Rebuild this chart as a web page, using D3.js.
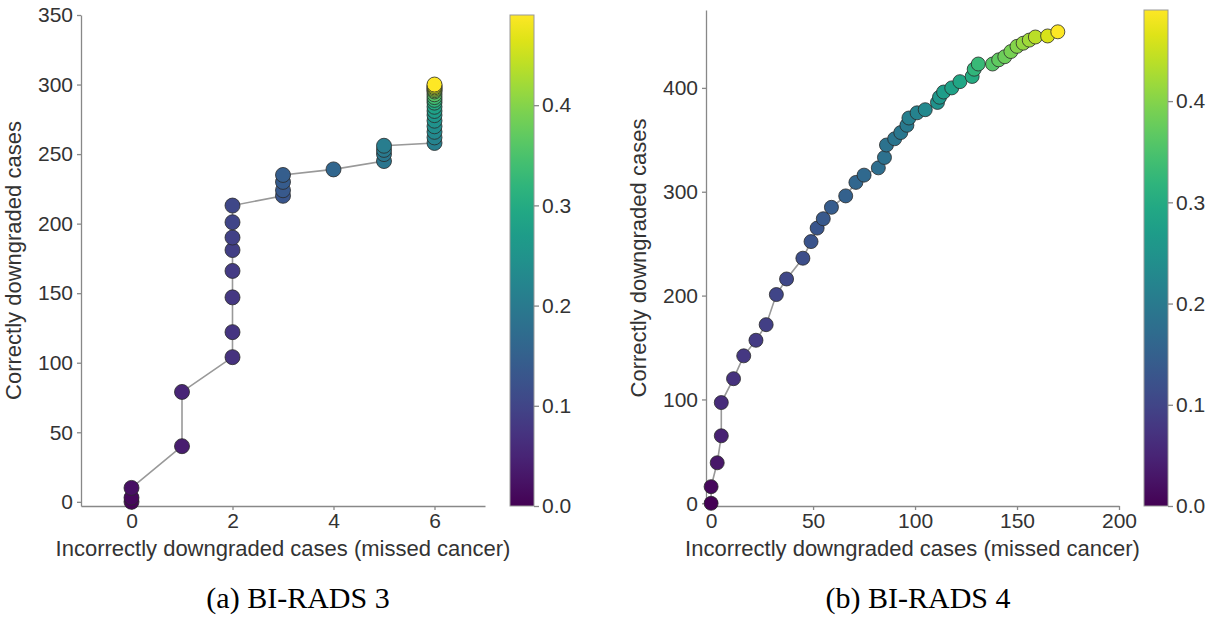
<!DOCTYPE html>
<html>
  <head>
    <title>Downgrade scatter</title>
    <meta charset="utf-8" />
    <script src="https://cdnjs.cloudflare.com/ajax/libs/d3/7.8.5/d3.min.js"></script>
    <style>
      body { margin: 0; background: #fff; }
      .axis text { font-family: "Liberation Sans", Arial, sans-serif; font-size: 21px; fill: #333; }
      .axis line, .axis path { stroke: #888; stroke-width: 1.3; }
      .title { font-family: "Liberation Sans", Arial, sans-serif; font-size: 22px; fill: #333; }
      .caption { font-family: "Liberation Serif", "Times New Roman", serif; font-size: 30px; fill: #000; }
    </style>
  </head>
  <body>
    <svg width="1216" height="626"></svg>
  </body>

  <script>
    // (a) BI-RADS 3
    let missed3 = [0, 0, 0, 1, 1, 2, 2, 2, 2, 2, 2, 2, 2, 3, 3, 3, 3, 4, 5, 5, 5, 5,
      6, 6, 6, 6, 6, 6, 6, 6, 6, 6, 6, 6, 6, 6, 6, 6, 6, 6];
    let correct3 = [0, 3, 10, 40, 79, 104, 122, 147, 166, 181, 190, 201, 213, 220, 224, 230, 235, 239, 245, 250, 253, 256,
      258, 262, 266, 270, 274, 278, 281, 284, 287, 289, 291, 293, 295, 296, 297, 298, 299, 300];
    let thresh3 = [0.005, 0.01, 0.02, 0.04, 0.05, 0.07, 0.075, 0.08, 0.085, 0.09, 0.095, 0.1, 0.105, 0.13, 0.135, 0.14, 0.145, 0.16, 0.19, 0.195, 0.2, 0.205,
      0.21, 0.22, 0.23, 0.24, 0.25, 0.26, 0.27, 0.28, 0.3, 0.32, 0.34, 0.36, 0.38, 0.4, 0.42, 0.44, 0.46, 0.49];

    // (b) BI-RADS 4
    let missed4 = [0, 0, 3, 5, 5, 11, 16, 22, 27, 32, 37, 45, 49, 52, 55, 59, 66, 71, 75, 82, 85, 86, 90, 93, 96, 97,
      101, 105, 111, 112, 114, 118, 122, 128, 129, 131, 138, 141, 144, 147, 150, 153, 156, 159, 165, 170];
    let correct4 = [0, 16, 39, 65, 97, 120, 142, 157, 172, 201, 216, 236, 252, 265, 274, 285, 296, 309, 316, 323, 333, 345, 351, 357, 364, 371,
      376, 379, 386, 391, 396, 400, 406, 411, 418, 423, 423, 427, 430, 435, 440, 443, 446, 449, 450, 454];
    let thresh4 = [0, 0.01, 0.03, 0.045, 0.06, 0.07, 0.08, 0.085, 0.09, 0.1, 0.105, 0.115, 0.125, 0.13, 0.135, 0.14, 0.15, 0.16, 0.165, 0.175, 0.18, 0.185, 0.19, 0.195, 0.2, 0.21,
      0.22, 0.23, 0.25, 0.26, 0.27, 0.28, 0.29, 0.3, 0.32, 0.33, 0.36, 0.37, 0.38, 0.39, 0.4, 0.41, 0.42, 0.44, 0.46, 0.49];

    let yTicks3 = [0, 50, 100, 150, 200, 250, 300, 350];
    let xTicks3 = [0, 2, 4, 6];
    let yTicks4 = [0, 100, 200, 300, 400];
    let xTicks4 = [0, 50, 100, 150, 200];
    let cbTicks = [0, 0.1, 0.2, 0.3, 0.4];
    let cbMax = 0.49;
    let xTitle = "Incorrectly downgraded cases (missed cancer)";
    let yTitle = "Correctly downgraded cases";

    let svg = d3.select("svg");
    let color = d3.scaleSequential(d3.interpolateViridis).domain([0, cbMax]);

    // one linear gradient shared by both colour bars
    let grad = svg.append("defs").append("linearGradient")
      .attr("id", "viridis").attr("x1", 0).attr("y1", 1).attr("x2", 0).attr("y2", 0);
    d3.range(0, 1.0001, 0.05).forEach((t) => {
      grad.append("stop").attr("offset", t).attr("stop-color", d3.interpolateViridis(t));
    });

    function panel(opts) {
      let x = d3.scaleLinear().domain(opts.xDomain).range([opts.left, opts.right]);
      let y = d3.scaleLinear().domain(opts.yDomain).range([opts.bottom, opts.top]);
      let pts = opts.missed.map((m, i) => ({ m: m, c: opts.correct[i], t: opts.thresh[i] }));

      svg.append("g")
        .attr("class", "axis")
        .attr("transform", `translate(0,${opts.bottom})`)
        .call(d3.axisBottom(x).tickValues(opts.xTicks).tickSize(4).tickSizeOuter(0).tickPadding(3));

      svg.append("g")
        .attr("class", "axis")
        .attr("transform", `translate(${opts.left},0)`)
        .call(d3.axisLeft(y).tickValues(opts.yTicks).tickSize(4).tickSizeOuter(0).tickPadding(4));

      svg.append("path")
        .datum(pts)
        .attr("fill", "none")
        .attr("stroke", "#999")
        .attr("stroke-width", 1.6)
        .attr("d", d3.line().x((d) => x(d.m)).y((d) => y(d.c)));

      svg.append("g")
        .selectAll("circle")
        .data(pts)
        .enter()
        .append("circle")
        .attr("cx", (d) => x(d.m))
        .attr("cy", (d) => y(d.c))
        .attr("r", opts.r)
        .attr("fill", (d) => color(d.t))
        .attr("stroke", "#2a2a2a")
        .attr("stroke-width", 0.8);

      svg.append("text")
        .attr("class", "title")
        .attr("text-anchor", "middle")
        .attr("x", (opts.left + opts.right) / 2 + opts.titleShift)
        .attr("y", 556)
        .text(xTitle);

      svg.append("text")
        .attr("class", "title")
        .attr("text-anchor", "middle")
        .attr("transform", `translate(${opts.left - 60},${(opts.top + opts.bottom) / 2}) rotate(-90)`)
        .text(yTitle);

      // colour bar
      let cb = d3.scaleLinear().domain([0, cbMax]).range([opts.bottom, opts.top]);
      svg.append("rect")
        .attr("x", opts.cbX)
        .attr("y", opts.top)
        .attr("width", 24)
        .attr("height", opts.bottom - opts.top)
        .attr("fill", "url(#viridis)")
        .attr("stroke", "#999")
        .attr("stroke-width", 1);
      let cbAxis = svg.append("g")
        .attr("class", "axis")
        .attr("transform", `translate(${opts.cbX + 24},0)`)
        .call(d3.axisRight(cb).tickValues(cbTicks).tickFormat(d3.format(".1f")).tickSize(5).tickPadding(3));
      cbAxis.select(".domain").remove();

      svg.append("text")
        .attr("class", "caption")
        .attr("text-anchor", "middle")
        .attr("x", opts.captionX)
        .attr("y", 608)
        .text(opts.caption);
    }

    panel({
      missed: missed3, correct: correct3, thresh: thresh3,
      xDomain: [-1, 7], yDomain: [-3, 350], xTicks: xTicks3, yTicks: yTicks3,
      left: 81, right: 485, top: 15, bottom: 506, cbX: 510, r: 7.5, titleShift: 0,
      caption: "(a) BI-RADS 3", captionX: 298
    });

    panel({
      missed: missed4, correct: correct4, thresh: thresh4,
      xDomain: [-2.5, 200], yDomain: [-2.6, 475], xTicks: xTicks4, yTicks: yTicks4,
      left: 706, right: 1119, top: 10, bottom: 506, cbX: 1144, r: 7, titleShift: 0,
      caption: "(b) BI-RADS 4", captionX: 918
    });
  </script>
</html>
